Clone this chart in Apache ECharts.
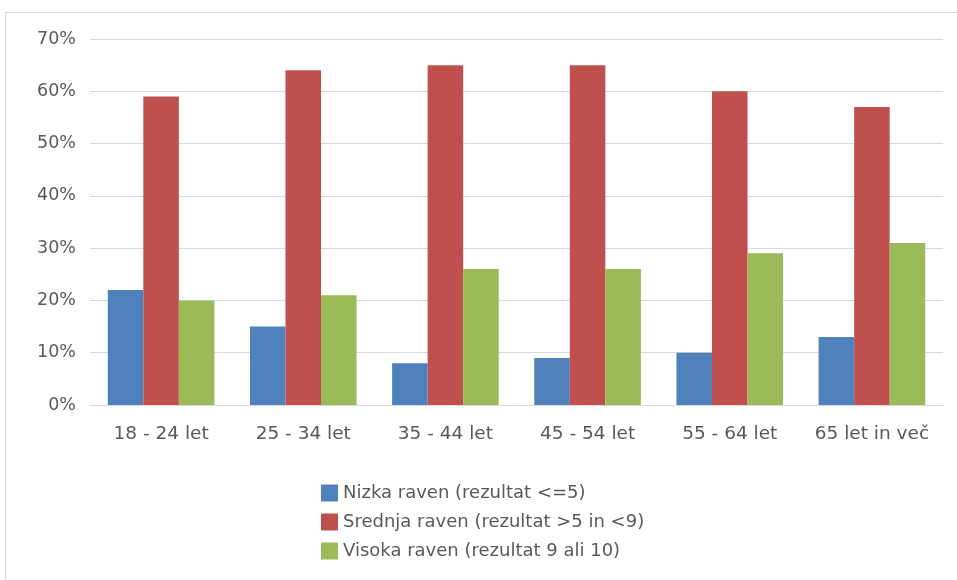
<!DOCTYPE html>
<html><head><meta charset="utf-8">
<script src="https://cdn.jsdelivr.net/npm/echarts@6/dist/echarts.min.js"></script>
<style>html,body{margin:0;padding:0;background:#fff;}#c{width:957px;height:580px;}</style>
</head><body><div id="c"></div>
<script>
const categories = ['18 - 24 let','25 - 34 let','35 - 44 let','45 - 54 let','55 - 64 let','65 let in več'];
const seriesNames = ['Nizka raven (rezultat <=5)','Srednja raven (rezultat >5 in <9)','Visoka raven (rezultat 9 ali 10)'];
const nizka = [22,15,8,9,10,13];
const srednja = [59,64,65,65,60,57];
const visoka = [20,21,26,26,29,31];
const colors = ['#4f81bd','#c0504d','#9bbb59'];
const font = 'DejaVu Sans, sans-serif';
const chart = echarts.init(document.getElementById('c'));
chart.setOption({
  animation:false,
  color: colors,
  graphic:[
    {type:'line',shape:{x1:5,y1:12.5,x2:957,y2:12.5},style:{stroke:'#d9d9d9',lineWidth:1}},
    {type:'line',shape:{x1:5.5,y1:12,x2:5.5,y2:580},style:{stroke:'#d9d9d9',lineWidth:1}}
  ],
  grid:{left:90,right:14,top:39,bottom:175,containLabel:false},
  legend:{
    orient:'vertical',left:316,top:479,itemWidth:17,itemHeight:17,itemGap:11,
    icon:'rect',
    textStyle:{color:'#595959',fontSize:18,fontFamily:font},
    data:seriesNames
  },
  xAxis:{type:'category',data:categories,
    axisLine:{lineStyle:{color:'#d9d9d9',width:1}},axisTick:{show:false},
    axisLabel:{interval:0,hideOverlap:false,color:'#595959',fontSize:18.5,fontFamily:font,margin:20}},
  yAxis:{type:'value',min:0,max:70,interval:10,
    axisLabel:{formatter:'{value}%',color:'#595959',fontSize:17.5,fontFamily:font,margin:14},
    splitLine:{lineStyle:{color:'#d9d9d9',width:1}},axisLine:{show:false},axisTick:{show:false}},
  series:[
    {name:seriesNames[0],type:'bar',data:nizka,barGap:'0%',barCategoryGap:'25%'},
    {name:seriesNames[1],type:'bar',data:srednja,barGap:'0%',barCategoryGap:'25%'},
    {name:seriesNames[2],type:'bar',data:visoka,barGap:'0%',barCategoryGap:'25%'}
  ]
});
</script></body></html>
